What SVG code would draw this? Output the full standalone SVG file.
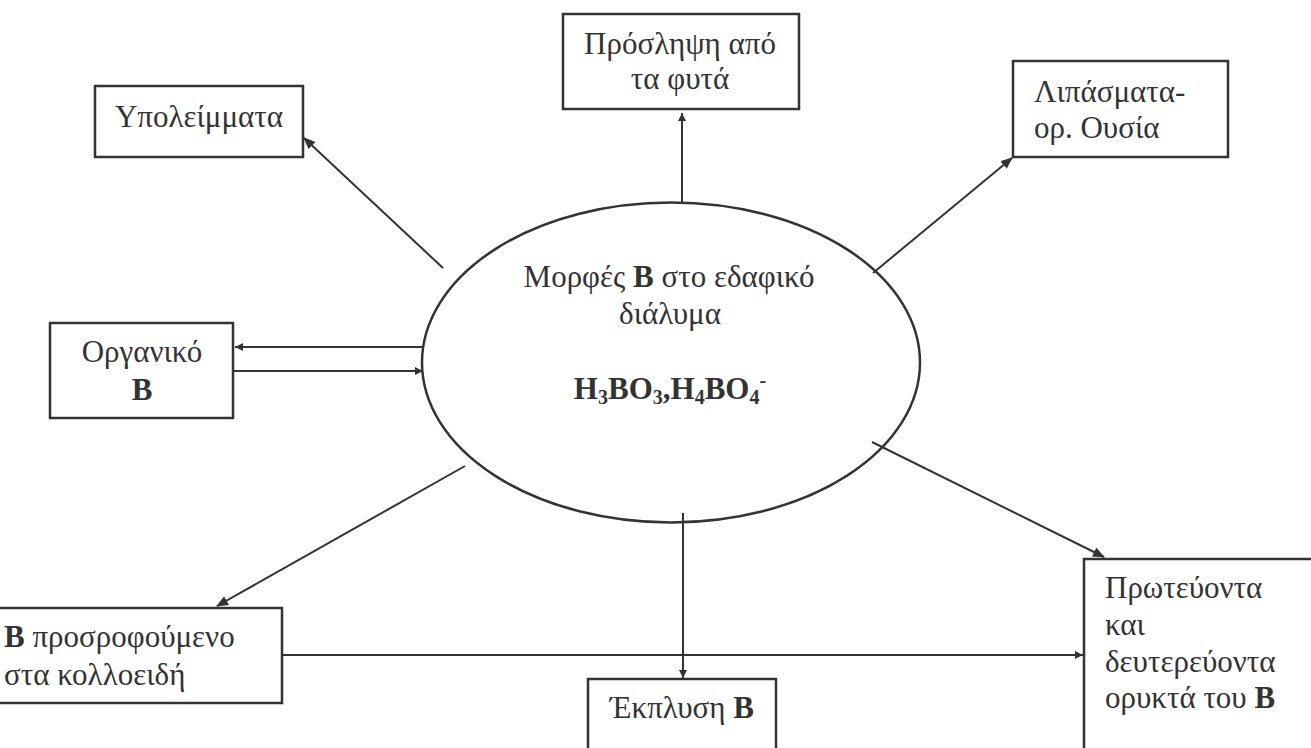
<svg xmlns="http://www.w3.org/2000/svg" width="1311" height="748" viewBox="0 0 1311 748">
<style>
.box{fill:#fff;stroke:#333;stroke-width:2.5}
.ell{fill:none;stroke:#333;stroke-width:2.5}
.t{font-family:"Liberation Serif","Times New Roman",serif;font-size:31px;fill:#333}
.c{text-anchor:middle}
.b{font-weight:bold}
.ln{fill:none;stroke:#333;stroke-width:2}
</style>
<defs>
<marker id="ah" markerWidth="12" markerHeight="10" refX="11" refY="5" orient="auto" markerUnits="userSpaceOnUse">
<path d="M0,0 L12,5 L0,10 Z" fill="#333"/>
</marker>
<marker id="ahs" markerWidth="8" markerHeight="8" refX="8" refY="4" orient="auto" markerUnits="userSpaceOnUse">
<path d="M0,0 L8,4 L0,8 Z" fill="#333"/>
</marker>
</defs>
<rect width="1311" height="748" fill="#fff"/>
<g id="connectors">
<line class="ln" x1="443" y1="268" x2="304" y2="138" marker-end="url(#ah)"/>
<line class="ln" x1="682" y1="203" x2="682" y2="113" marker-end="url(#ahs)"/>
<line class="ln" x1="873" y1="273" x2="1012" y2="158" marker-end="url(#ah)"/>
<line class="ln" x1="424" y1="347" x2="235" y2="347" marker-end="url(#ahs)"/>
<line class="ln" x1="234" y1="371" x2="423" y2="371" marker-end="url(#ahs)"/>
<line class="ln" x1="465" y1="466" x2="217" y2="606" marker-end="url(#ah)"/>
<line class="ln" x1="872" y1="442" x2="1104" y2="557" marker-end="url(#ah)"/>
<line class="ln" x1="683" y1="513" x2="683" y2="678" marker-end="url(#ahs)"/>
<line class="ln" x1="282" y1="655" x2="1083" y2="655" marker-end="url(#ahs)"/>
</g>
<g id="center">
<ellipse class="ell" cx="671" cy="362.5" rx="249" ry="160"/>
<text class="t c" x="669" y="287">Μορφές <tspan class="b">B</tspan> στο εδαφικό</text>
<text class="t c" x="670" y="324">διάλυμα</text>
<text class="t c b" x="670" y="399" font-size="30">H<tspan font-size="20" dy="5">3</tspan><tspan dy="-5">BO</tspan><tspan font-size="20" dy="5">3</tspan><tspan dy="-5">,H</tspan><tspan font-size="20" dy="5">4</tspan><tspan dy="-5">BO</tspan><tspan font-size="20" dy="5">4</tspan><tspan font-size="20" dy="-17">-</tspan></text>
</g>
<g id="ypoleimmata">
<rect class="box" x="95" y="86" width="208" height="71"/>
<text class="t c" x="199" y="127">Υπολείμματα</text>
</g>
<g id="proslipsi">
<rect class="box" x="563" y="14" width="236" height="95"/>
<text class="t c" x="680" y="54">Πρόσληψη από</text>
<text class="t c" x="680" y="89">τα φυτά</text>
</g>
<g id="lipasmata">
<rect class="box" x="1013" y="61" width="215" height="96"/>
<text class="t" x="1034" y="102">Λιπάσματα-</text>
<text class="t" x="1034" y="138">ορ. Ουσία</text>
</g>
<g id="organiko">
<rect class="box" x="50" y="323" width="183" height="95"/>
<text class="t c" x="142" y="362">Οργανικό</text>
<text class="t c b" x="142" y="400">B</text>
</g>
<g id="prosrofoumeno">
<rect class="box" x="-5" y="608" width="287" height="95"/>
<text class="t" x="4" y="647"><tspan class="b">B</tspan> προσροφούμενο</text>
<text class="t" x="4" y="685">στα κολλοειδή</text>
</g>
<g id="ekplysi">
<rect class="box" x="588" y="679" width="188" height="90"/>
<text class="t c" x="682" y="718">Έκπλυση <tspan class="b">B</tspan></text>
</g>
<g id="orykta">
<rect class="box" x="1084" y="559" width="240" height="200"/>
<text class="t" x="1105" y="598">Πρωτεύοντα</text>
<text class="t" x="1105" y="635">και</text>
<text class="t" x="1105" y="672">δευτερεύοντα</text>
<text class="t" x="1105" y="708">ορυκτά του <tspan class="b">B</tspan></text>
</g>
</svg>
